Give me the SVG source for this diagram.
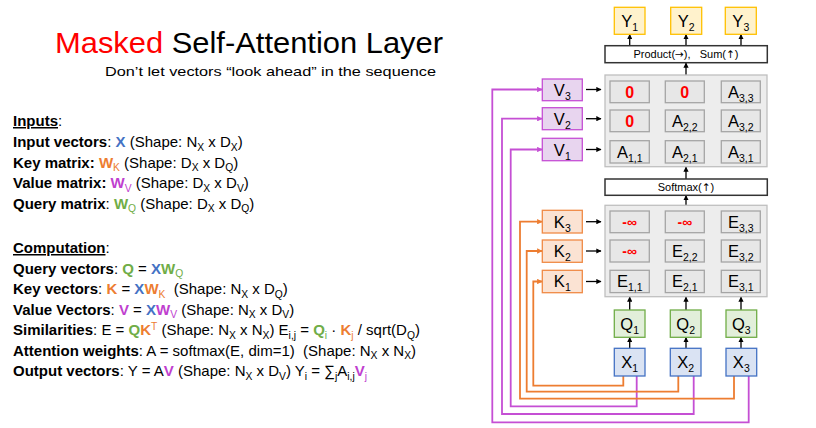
<svg xmlns="http://www.w3.org/2000/svg" width="816" height="428" viewBox="0 0 816 428">
  <style>
    text { font-family: "Liberation Sans", Arial, sans-serif; }
    .t { font-size: 15px; fill: #000; }
    .b { font-weight: bold; }
    .s { font-size: 10.3px; }
    .blue { fill: #4472C4; }
    .org { fill: #ED7D31; }
    .mag { fill: #C03FCF; }
    .grn { fill: #70AD47; }
    .mat { fill: #EDEDED; stroke: #BFBFBF; stroke-width: 1.3; }
    .cell { fill: #E7E7E7; stroke: #A5A5A5; stroke-width: 1.3; }
    .op { fill: #FFFFFF; stroke: #333333; stroke-width: 1.5; }
    .vbox { fill: #E8D5EF; stroke: #C54FD4; stroke-width: 1.3; }
    .kbox { fill: #FBE3D3; stroke: #F08A45; stroke-width: 1.3; }
    .qbox { fill: #E2EFDA; stroke: #70AD47; stroke-width: 1.3; }
    .xbox { fill: #DAE3F3; stroke: #4472C4; stroke-width: 1.3; }
    .ybox { fill: #FFF2CC; stroke: #FFC000; stroke-width: 1.3; }
    .lbl { font-size: 16.5px; fill: #000; text-anchor: middle; }
    .sub { font-size: 10.5px; }
    .zero { font-size: 16px; font-weight: bold; fill: #FF0000; text-anchor: middle; }
    .inf { font-size: 14px; font-weight: bold; fill: #FF0000; text-anchor: middle; }
    .opt { font-size: 11px; fill: #000; text-anchor: middle; }
    .sym { font-family: "DejaVu Sans", sans-serif; font-size: 10.5px; }
    .arr { stroke: #000; stroke-width: 1.3; fill: none; marker-end: url(#ah); }
    .mline { stroke: #C54FD4; stroke-width: 1.8; fill: none; marker-end: url(#am); }
    .oline { stroke: #ED7D31; stroke-width: 1.8; fill: none; marker-end: url(#ao); }
  </style>
  <defs>
    <marker id="ah" viewBox="0 0 10 10" refX="9" refY="5" markerWidth="4" markerHeight="4" orient="auto" markerUnits="strokeWidth">
      <path d="M0,0 L10,5 L0,10 z" fill="#000"/>
    </marker>
    <marker id="am" viewBox="0 0 10 10" refX="9" refY="5" markerWidth="3" markerHeight="3" orient="auto" markerUnits="strokeWidth">
      <path d="M0,0 L10,5 L0,10 z" fill="#C54FD4"/>
    </marker>
    <marker id="ao" viewBox="0 0 10 10" refX="9" refY="5" markerWidth="3" markerHeight="3" orient="auto" markerUnits="strokeWidth">
      <path d="M0,0 L10,5 L0,10 z" fill="#ED7D31"/>
    </marker>
  </defs>

  <!-- Title -->
  <g id="title">
    <text x="55" y="53" font-size="30" textLength="388" lengthAdjust="spacingAndGlyphs"><tspan fill="#FF0000">Masked</tspan><tspan fill="#000"> Self-Attention Layer</tspan></text>
    <text x="105" y="76" font-size="13" fill="#000" textLength="331" lengthAdjust="spacingAndGlyphs">Don’t let vectors “look ahead” in the sequence</text>
  </g>

  <!-- Inputs -->
  <g id="inputs">
    <text x="13" y="126" class="t"><tspan class="b" text-decoration="underline">Inputs</tspan>:</text>
    <text x="13" y="147" class="t"><tspan class="b">Input vectors</tspan>: <tspan class="b blue">X</tspan> (Shape: N<tspan class="s" dy="3.5">X</tspan><tspan dy="-3.5"> x D</tspan><tspan class="s" dy="3.5">X</tspan><tspan dy="-3.5">)</tspan></text>
    <text x="13" y="167.5" class="t"><tspan class="b">Key matrix:</tspan> <tspan class="b org">W</tspan><tspan class="s org" dy="3.5">K</tspan><tspan dy="-3.5"> (Shape: D</tspan><tspan class="s" dy="3.5">X</tspan><tspan dy="-3.5"> x D</tspan><tspan class="s" dy="3.5">Q</tspan><tspan dy="-3.5">)</tspan></text>
    <text x="13" y="188" class="t"><tspan class="b">Value matrix:</tspan> <tspan class="b mag">W</tspan><tspan class="s mag" dy="3.5">V</tspan><tspan dy="-3.5"> (Shape: D</tspan><tspan class="s" dy="3.5">X</tspan><tspan dy="-3.5"> x D</tspan><tspan class="s" dy="3.5">V</tspan><tspan dy="-3.5">)</tspan></text>
    <text x="13" y="208.5" class="t"><tspan class="b">Query matrix</tspan>: <tspan class="b grn">W</tspan><tspan class="s grn" dy="3.5">Q</tspan><tspan dy="-3.5"> (Shape: D</tspan><tspan class="s" dy="3.5">X</tspan><tspan dy="-3.5"> x D</tspan><tspan class="s" dy="3.5">Q</tspan><tspan dy="-3.5">)</tspan></text>
  </g>

  <!-- Computation -->
  <g id="computation">
    <text x="13" y="253" class="t"><tspan class="b" text-decoration="underline">Computation</tspan>:</text>
    <text x="13" y="273.5" class="t"><tspan class="b">Query vectors</tspan>: <tspan class="b grn">Q</tspan> = <tspan class="b blue">X</tspan><tspan class="b grn">W</tspan><tspan class="s grn" dy="3.5">Q</tspan></text>
    <text x="13" y="294" class="t"><tspan class="b">Key vectors</tspan>: <tspan class="b org">K</tspan> = <tspan class="b blue">X</tspan><tspan class="b org">W</tspan><tspan class="s org" dy="3.5">K</tspan><tspan dy="-3.5">&#160; (Shape: N</tspan><tspan class="s" dy="3.5">X</tspan><tspan dy="-3.5"> x D</tspan><tspan class="s" dy="3.5">Q</tspan><tspan dy="-3.5">)</tspan></text>
    <text x="13" y="314.5" class="t"><tspan class="b">Value Vectors</tspan>: <tspan class="b mag">V</tspan> = <tspan class="b blue">X</tspan><tspan class="b mag">W</tspan><tspan class="s mag" dy="3.5">V</tspan><tspan dy="-3.5"> (Shape: N</tspan><tspan class="s" dy="3.5">X</tspan><tspan dy="-3.5"> x D</tspan><tspan class="s" dy="3.5">V</tspan><tspan dy="-3.5">)</tspan></text>
    <text x="13" y="335" class="t"><tspan class="b">Similarities</tspan>: E = <tspan class="b grn">Q</tspan><tspan class="b org">K</tspan><tspan class="s org" dy="-5">T</tspan><tspan dy="5"> (Shape: N</tspan><tspan class="s" dy="3.5">X</tspan><tspan dy="-3.5"> x N</tspan><tspan class="s" dy="3.5">X</tspan><tspan dy="-3.5">) E</tspan><tspan class="s" dy="3.5">i,j</tspan><tspan dy="-3.5"> = </tspan><tspan class="b grn">Q</tspan><tspan class="s grn" dy="3.5">i</tspan><tspan dy="-3.5"> · </tspan><tspan class="b org">K</tspan><tspan class="s org" dy="3.5">j</tspan><tspan dy="-3.5"> / sqrt(D</tspan><tspan class="s" dy="3.5">Q</tspan><tspan dy="-3.5">)</tspan></text>
    <text x="13" y="355.5" class="t"><tspan class="b">Attention weights</tspan>: A = softmax(E, dim=1)&#160; (Shape: N<tspan class="s" dy="3.5">X</tspan><tspan dy="-3.5"> x N</tspan><tspan class="s" dy="3.5">X</tspan><tspan dy="-3.5">)</tspan></text>
    <text x="13" y="376" class="t"><tspan class="b">Output vectors</tspan>: Y = A<tspan class="b mag">V</tspan> (Shape: N<tspan class="s" dy="3.5">X</tspan><tspan dy="-3.5"> x D</tspan><tspan class="s" dy="3.5">V</tspan><tspan dy="-3.5">) Y</tspan><tspan class="s" dy="3.5">i</tspan><tspan dy="-3.5"> = ∑</tspan><tspan class="s" dy="3.5">j</tspan><tspan dy="-3.5">A</tspan><tspan class="s" dy="3.5">i,j</tspan><tspan class="b mag" dy="-3.5">V</tspan><tspan class="s mag" dy="3.5">j</tspan></text>
  </g>

  <!-- Connectors -->
  <g id="connectors">
    <!-- X -> V (magenta) -->
    <path class="mline" d="M748.7,376 V422.3 H492.3 V89.5 H542"/>
    <path class="mline" d="M693.7,376 V414 H502 V118.7 H542"/>
    <path class="mline" d="M636.7,376 V406.3 H510.7 V149.5 H542"/>
    <!-- X -> K (orange) -->
    <path class="oline" d="M734,376 V398.7 H520 V221.7 H542"/>
    <path class="oline" d="M678.3,376 V391.7 H526.7 V251 H542"/>
    <path class="oline" d="M623.3,376 V385.7 H533.3 V281.5 H542"/>
    <!-- V, K -> matrices -->
    <path class="arr" d="M586,89.5 H601"/>
    <path class="arr" d="M586,118.7 H601"/>
    <path class="arr" d="M586,149.5 H601"/>
    <path class="arr" d="M586,221.7 H601"/>
    <path class="arr" d="M586,251 H601"/>
    <path class="arr" d="M586,281.5 H601"/>
    <!-- X -> Q -->
    <path class="arr" d="M629.7,348.3 V337.5"/>
    <path class="arr" d="M686,348.3 V337.5"/>
    <path class="arr" d="M741,348.3 V337.5"/>
    <!-- Q -> E -->
    <path class="arr" d="M629.7,310 V297"/>
    <path class="arr" d="M686,310 V297"/>
    <path class="arr" d="M741,310 V297"/>
    <!-- E -> softmax -> A -> product -->
    <path class="arr" d="M686,205.3 V195.5"/>
    <path class="arr" d="M686,179 V167"/>
    <path class="arr" d="M686,75 V63"/>
    <!-- product -> Y -->
    <path class="arr" d="M629.7,45.7 V34.5"/>
    <path class="arr" d="M686,45.7 V34.5"/>
    <path class="arr" d="M741,45.7 V34.5"/>
  </g>

  <!-- Outputs -->
  <g id="y1"><rect class="ybox" x="614.3" y="7.3" width="30.7" height="27"/><text class="lbl" x="629.7" y="27">Y<tspan class="sub" dy="4">1</tspan></text></g>
  <g id="y2"><rect class="ybox" x="670.7" y="7.3" width="31" height="27"/><text class="lbl" x="686.2" y="27">Y<tspan class="sub" dy="4">2</tspan></text></g>
  <g id="y3"><rect class="ybox" x="725.3" y="7.3" width="31" height="27"/><text class="lbl" x="740.8" y="27">Y<tspan class="sub" dy="4">3</tspan></text></g>

  <g id="product"><rect class="op" x="605" y="45.7" width="162.3" height="17"/><text class="opt" x="686" y="58.3">Product(<tspan class="sym">→</tspan>),&#160;&#160; Sum(<tspan class="sym">↑</tspan>)</text></g>

  <!-- Attention weights matrix -->
  <g id="attn">
    <rect class="mat" x="605" y="75" width="162" height="91.7"/>
    <rect class="cell" x="610" y="81" width="39.3" height="21.7"/><text class="zero" x="629.7" y="98">0</text>
    <rect class="cell" x="665.3" y="81" width="39" height="21.7"/><text class="zero" x="684.8" y="98">0</text>
    <rect class="cell" x="721.3" y="81" width="39" height="21.7"/><text class="lbl" x="740.8" y="98">A<tspan class="sub" dy="4">3,3</tspan></text>
    <rect class="cell" x="610" y="110" width="39.3" height="21.7"/><text class="zero" x="629.7" y="127">0</text>
    <rect class="cell" x="665.3" y="110" width="39" height="21.7"/><text class="lbl" x="684.8" y="127">A<tspan class="sub" dy="4">2,2</tspan></text>
    <rect class="cell" x="721.3" y="110" width="39" height="21.7"/><text class="lbl" x="740.8" y="127">A<tspan class="sub" dy="4">3,2</tspan></text>
    <rect class="cell" x="610" y="140.7" width="39.3" height="22.3"/><text class="lbl" x="629.7" y="157.5">A<tspan class="sub" dy="4">1,1</tspan></text>
    <rect class="cell" x="665.3" y="140.7" width="39" height="22.3"/><text class="lbl" x="684.8" y="157.5">A<tspan class="sub" dy="4">2,1</tspan></text>
    <rect class="cell" x="721.3" y="140.7" width="39" height="22.3"/><text class="lbl" x="740.8" y="157.5">A<tspan class="sub" dy="4">3,1</tspan></text>
  </g>

  <g id="softmax"><rect class="op" x="605" y="179" width="162.3" height="16.3"/><text class="opt" x="686" y="191.3">Softmax(<tspan class="sym">↑</tspan>)</text></g>

  <!-- Similarity matrix -->
  <g id="sim">
    <rect class="mat" x="605" y="205.3" width="162" height="91.4"/>
    <rect class="cell" x="610" y="211" width="39.3" height="21.7"/><text class="inf" x="629.7" y="226.5">-∞</text>
    <rect class="cell" x="665.3" y="211" width="39" height="21.7"/><text class="inf" x="684.8" y="226.5">-∞</text>
    <rect class="cell" x="721.3" y="211" width="39" height="21.7"/><text class="lbl" x="740.8" y="228">E<tspan class="sub" dy="4">3,3</tspan></text>
    <rect class="cell" x="610" y="240" width="39.3" height="22"/><text class="inf" x="629.7" y="255.5">-∞</text>
    <rect class="cell" x="665.3" y="240" width="39" height="22"/><text class="lbl" x="684.8" y="257">E<tspan class="sub" dy="4">2,2</tspan></text>
    <rect class="cell" x="721.3" y="240" width="39" height="22"/><text class="lbl" x="740.8" y="257">E<tspan class="sub" dy="4">3,2</tspan></text>
    <rect class="cell" x="610" y="270.3" width="39.3" height="22.3"/><text class="lbl" x="629.7" y="287">E<tspan class="sub" dy="4">1,1</tspan></text>
    <rect class="cell" x="665.3" y="270.3" width="39" height="22.3"/><text class="lbl" x="684.8" y="287">E<tspan class="sub" dy="4">2,1</tspan></text>
    <rect class="cell" x="721.3" y="270.3" width="39" height="22.3"/><text class="lbl" x="740.8" y="287">E<tspan class="sub" dy="4">3,1</tspan></text>
  </g>

  <!-- Value vectors -->
  <g id="v3"><rect class="vbox" x="542.3" y="79" width="40" height="21.7"/><text class="lbl" x="562.3" y="96">V<tspan class="sub" dy="4">3</tspan></text></g>
  <g id="v2"><rect class="vbox" x="542.3" y="107.7" width="40" height="22"/><text class="lbl" x="562.3" y="125">V<tspan class="sub" dy="4">2</tspan></text></g>
  <g id="v1"><rect class="vbox" x="542.3" y="138.3" width="40" height="22.4"/><text class="lbl" x="562.3" y="155.5">V<tspan class="sub" dy="4">1</tspan></text></g>

  <!-- Key vectors -->
  <g id="k3"><rect class="kbox" x="542.3" y="210.3" width="40" height="22.7"/><text class="lbl" x="562.3" y="228">K<tspan class="sub" dy="4">3</tspan></text></g>
  <g id="k2"><rect class="kbox" x="542.3" y="240" width="40" height="22.3"/><text class="lbl" x="562.3" y="257">K<tspan class="sub" dy="4">2</tspan></text></g>
  <g id="k1"><rect class="kbox" x="542.3" y="270.3" width="40" height="22.4"/><text class="lbl" x="562.3" y="287">K<tspan class="sub" dy="4">1</tspan></text></g>

  <!-- Query vectors -->
  <g id="q1"><rect class="qbox" x="614.3" y="310" width="30.7" height="27.3"/><text class="lbl" x="629.7" y="330">Q<tspan class="sub" dy="4">1</tspan></text></g>
  <g id="q2"><rect class="qbox" x="670.3" y="310" width="30.7" height="27.3"/><text class="lbl" x="685.7" y="330">Q<tspan class="sub" dy="4">2</tspan></text></g>
  <g id="q3"><rect class="qbox" x="726" y="310" width="30.7" height="27.3"/><text class="lbl" x="741.3" y="330">Q<tspan class="sub" dy="4">3</tspan></text></g>

  <!-- Input vectors -->
  <g id="x1"><rect class="xbox" x="614.3" y="348.3" width="30.7" height="27.7"/><text class="lbl" x="629.7" y="368">X<tspan class="sub" dy="4">1</tspan></text></g>
  <g id="x2"><rect class="xbox" x="670.3" y="348.3" width="30.7" height="27.7"/><text class="lbl" x="685.7" y="368">X<tspan class="sub" dy="4">2</tspan></text></g>
  <g id="x3"><rect class="xbox" x="726" y="348.3" width="30.7" height="27.7"/><text class="lbl" x="741.3" y="368">X<tspan class="sub" dy="4">3</tspan></text></g>
</svg>
